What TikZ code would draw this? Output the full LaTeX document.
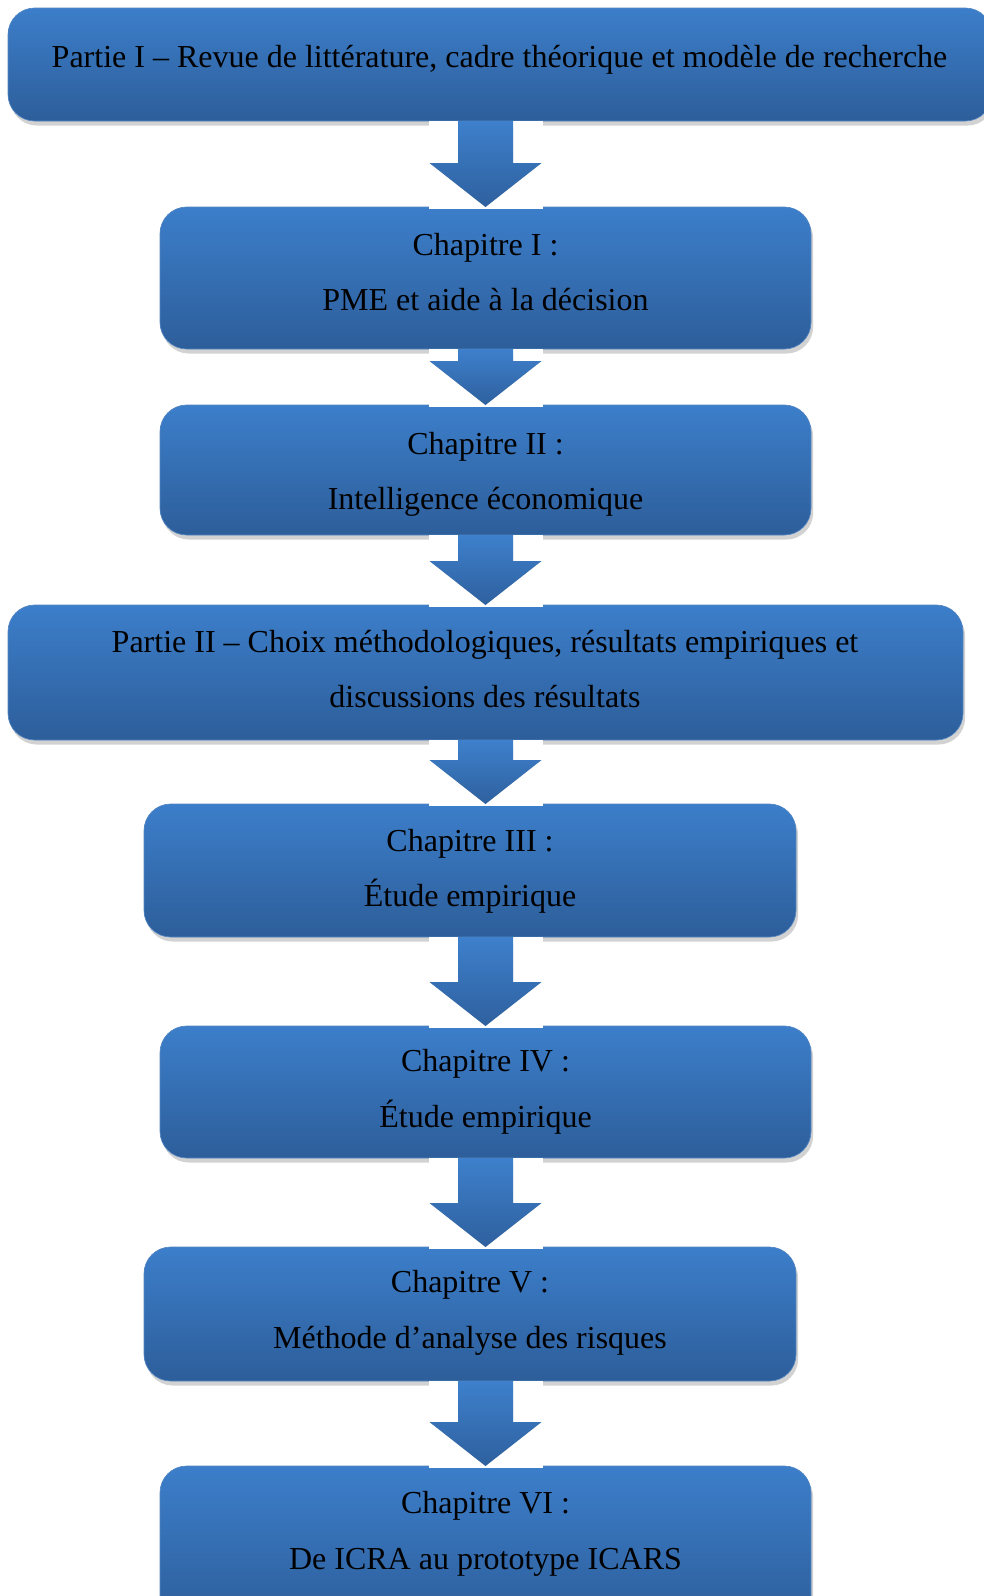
\documentclass[tikz,border=0pt]{standalone}
\usepackage{fontspec}
\setmainfont{Liberation Serif}
\usetikzlibrary{shadows,calc,fit}
\definecolor{boxtop}{RGB}{60,126,202}
\definecolor{boxbot}{RGB}{45,94,154}
\definecolor{boxline}{RGB}{84,134,194}
\definecolor{arrtop}{RGB}{62,128,204}
\definecolor{arrbot}{RGB}{46,96,158}
\definecolor{shadowgray}{RGB}{210,210,210}

% block arrow from the bottom of one box down to the top of the next
\newcommand\flowarrow[2]{%
  \fill[white] ($(ax |- #1.south)+(-57,0)$) rectangle ($(ax |- #2.north)+(57,1.5)$);
  \fill[shadowgray,shift={(2,3)}]
    ($(ax |- #1.south)+(-27.5,8)$) -- ($(ax |- #2.north)+(-27.5,-44)$)
    -- ($(ax |- #2.north)+(-56,-44)$) -- (ax |- #2.north)
    -- ($(ax |- #2.north)+(56,-44)$) -- ($(ax |- #2.north)+(27.5,-44)$)
    -- ($(ax |- #1.south)+(27.5,8)$) -- cycle;
  \shade[top color=arrtop,bottom color=arrbot]
    ($(ax |- #1.south)+(-27.5,0)$) -- ($(ax |- #2.north)+(-27.5,-44)$)
    -- ($(ax |- #2.north)+(-56,-44)$) -- (ax |- #2.north)
    -- ($(ax |- #2.north)+(56,-44)$) -- ($(ax |- #2.north)+(27.5,-44)$)
    -- ($(ax |- #1.south)+(27.5,0)$) -- cycle;
}

\begin{document}
\begin{tikzpicture}[x=0.75pt,y=-0.75pt,
  box/.style={rectangle, rounded corners=20pt, inner sep=0pt, outer sep=0pt,
    top color=boxtop, bottom color=boxbot, draw=boxline, line width=0.5pt,
    drop shadow={shadow xshift=1.6pt, shadow yshift=-3.4pt, fill=shadowgray, opacity=1}},
  lbl/.style={anchor=base, inner sep=0pt, font=\fontsize{24}{28}\selectfont}]
\useasboundingbox (0,0) rectangle (984,1596);
\clip (0,0) rectangle (984,1596);

\coordinate (ax) at (485.5,0);

% boxes
\node[box, fit={(8,8) (992,121)}] (p1) {};
\node[box, fit={(160,207) (811,349)}] (c1) {};
\node[box, fit={(160,405) (811,535)}] (c2) {};
\node[box, fit={(8,605) (963,740)}] (p2) {};
\node[box, fit={(144,804) (796,937)}] (c3) {};
\node[box, fit={(160,1026) (811,1158)}] (c4) {};
\node[box, fit={(144,1247) (796,1381)}] (c5) {};
\node[box, fit={(160,1466) (811,1625)}] (c6) {};

% connectors
\flowarrow{p1}{c1}
\flowarrow{c1}{c2}
\flowarrow{c2}{p2}
\flowarrow{p2}{c3}
\flowarrow{c3}{c4}
\flowarrow{c4}{c5}
\flowarrow{c5}{c6}

% labels
\node[lbl] (p1a) at (499.5,67) {Partie I – Revue de littérature, cadre théorique et modèle de recherche};
\node[lbl] (c1a) at (485.5,255) {Chapitre I :};
\node[lbl] (c1b) at (485.5,310) {PME et aide à la décision};
\node[lbl] (c2a) at (485.5,454) {Chapitre II :};
\node[lbl] (c2b) at (485.5,509) {Intelligence économique};
\node[lbl] (p2a) at (485,652) {Partie II – Choix méthodologiques, résultats empiriques et};
\node[lbl] (p2b) at (485,707) {discussions des résultats};
\node[lbl] (c3a) at (470,851) {Chapitre III :};
\node[lbl] (c3b) at (470,906) {Étude empirique};
\node[lbl] (c4a) at (485.5,1071) {Chapitre IV :};
\node[lbl] (c4b) at (485.5,1127) {Étude empirique};
\node[lbl] (c5a) at (470,1292) {Chapitre V :};
\node[lbl] (c5b) at (470,1348) {Méthode d’analyse des risques};
\node[lbl] (c6a) at (485.5,1513) {Chapitre VI :};
\node[lbl] (c6b) at (485.5,1569) {De ICRA au prototype ICARS};
\end{tikzpicture}
\end{document}
